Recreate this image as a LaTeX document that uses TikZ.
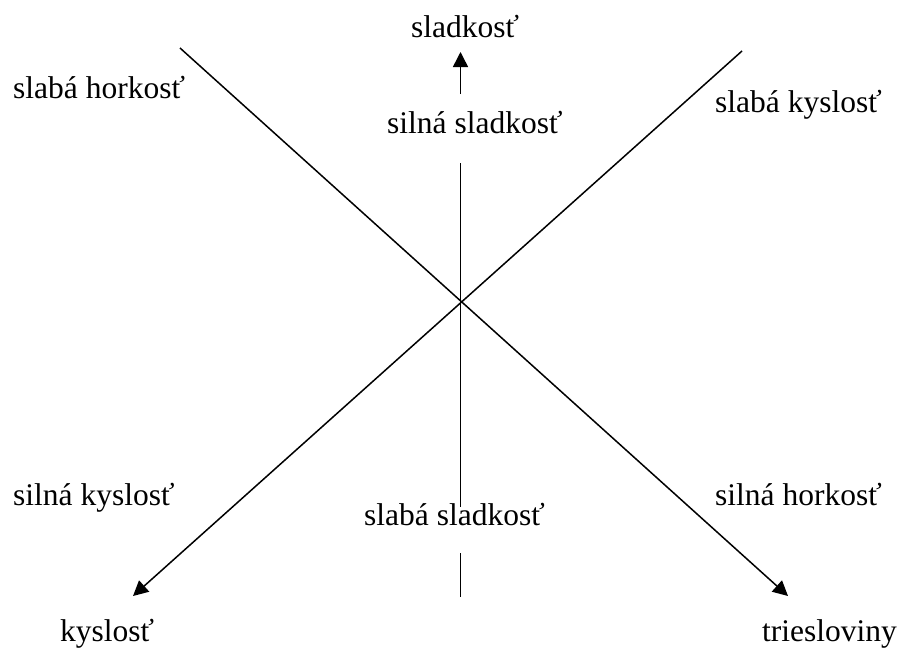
\documentclass[tikz,border=0pt]{standalone}
\usepackage{fontspec}
\setmainfont{Liberation Serif}
\usetikzlibrary{arrows.meta}
\begin{document}
\begin{tikzpicture}[x=1pt,y=-1pt,
  lbl/.style={anchor=base west,inner sep=0pt,font=\fontsize{31.5}{36}\selectfont},
  ln/.style={line width=1.5pt,black},
  arr/.style={ln,-{Triangle[length=15pt,width=15pt]}}]
\useasboundingbox (0,0) rectangle (900,649);
% coordinates
\coordinate (hTop) at (180,48);
\coordinate (hEnd) at (788,596);
\coordinate (kTop) at (742,51);
\coordinate (kEnd) at (133,596);
\coordinate (vA) at (460.5,94);
\coordinate (vB) at (460.5,52);
\coordinate (vC) at (460.5,163);
\coordinate (vD) at (460.5,507);
\coordinate (vE) at (460.5,553);
\coordinate (vF) at (460.5,597);
% lines
\draw[arr] (hTop) -- (hEnd);
\draw[arr] (kTop) -- (kEnd);
\draw[arr] (vA) -- (vB);
\draw[ln] (vC) -- (vD);
\draw[ln] (vE) -- (vF);
% labels
\node[lbl] (sladkost) at (411,37) {sladkosť};
\node[lbl] (silnaSl) at (387,133) {silná sladkosť};
\node[lbl] (slabaHo) at (13,98) {slabá horkosť};
\node[lbl] (slabaKy) at (715,112) {slabá kyslosť};
\node[lbl] (silnaKy) at (13,505) {silná kyslosť};
\node[lbl] (silnaHo) at (715,505) {silná horkosť};
\node[lbl] (slabaSl) at (364,525) {slabá sladkosť};
\node[lbl] (kyslost) at (60,641) {kyslosť};
\node[lbl] (triesl) at (762,641) {triesloviny};
\end{tikzpicture}
\end{document}
